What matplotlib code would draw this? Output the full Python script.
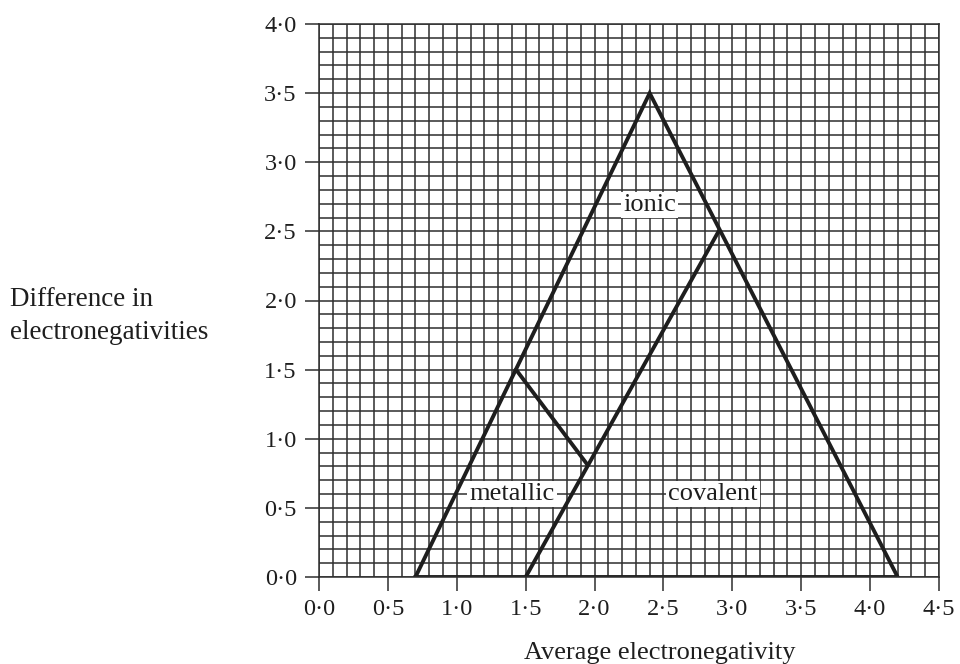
"""Bonding triangle: difference in electronegativity vs average electronegativity."""

from matplotlib import pyplot as plt
import numpy as np

# outer triangle (ionic boundary) and the two inner dividing lines
triangle_x = [0.7, 2.4, 4.2, 0.7]
triangle_y = [0.0, 3.5, 0.0, 0.0]
covalent_x = [1.5, 2.9]
covalent_y = [0.0, 2.5]
metallic_x = [1.43, 1.95]
metallic_y = [1.5, 0.81]

labels = ["ionic", "metallic", "covalent"]
label_x = [2.40, 1.40, 2.86]
label_y = [2.69, 0.60, 0.60]

x_ticks = [0.0, 0.5, 1.0, 1.5, 2.0, 2.5, 3.0, 3.5, 4.0, 4.5]
y_ticks = [0.0, 0.5, 1.0, 1.5, 2.0, 2.5, 3.0, 3.5, 4.0]

plt.rcParams["font.family"] = ["Liberation Serif", "DejaVu Serif"]
ink = "#1e1e1e"
grid_col = "#2e2e2e"

fig = plt.figure(figsize=(9.6, 6.64), dpi=100)
ax = fig.add_axes([319 / 960, 1 - 577 / 664, 620 / 960, 553 / 664])

ax.set_xlim(0, 4.5)
ax.set_ylim(0, 4.0)

ax.set_xticks(x_ticks)
ax.set_yticks(y_ticks)
ax.set_xticklabels([f"{v:.1f}".replace(".", "\u00b7") for v in x_ticks])
ax.set_yticklabels([f"{v:.1f}".replace(".", "\u00b7") for v in y_ticks])
ax.set_xticks(np.arange(0, 46) / 10, minor=True)
ax.set_yticks(np.arange(0, 41) / 10, minor=True)

ax.grid(which="both", color=grid_col, linewidth=1.1)
ax.set_axisbelow(True)
ax.tick_params(which="major", length=10, width=1.1, color=grid_col,
               labelsize=17.5, labelcolor=ink, pad=6)
ax.tick_params(which="minor", length=0)
for side in ax.spines.values():
    side.set_color(grid_col)
    side.set_linewidth(1.1)

ax.plot(triangle_x, triangle_y, color=ink, linewidth=2.8, solid_joinstyle="miter")
ax.plot(covalent_x, covalent_y, color=ink, linewidth=2.8)
ax.plot(metallic_x, metallic_y, color=ink, linewidth=2.8)

for text, lx, ly in zip(labels, label_x, label_y):
    ax.text(lx, ly, text, ha="center", va="center", fontsize=19, color=ink,
            bbox=dict(facecolor="white", edgecolor="none", pad=1.5))

fig.text(660 / 960, 1 - 659 / 664, "Average electronegativity",
         ha="center", va="baseline", fontsize=19, color=ink)
fig.text(10 / 960, 1 - 316 / 664, "Difference in\nelectronegativities",
         ha="left", va="center", fontsize=19.5, color=ink, linespacing=1.4)

fig.savefig("out.png", dpi=100)
